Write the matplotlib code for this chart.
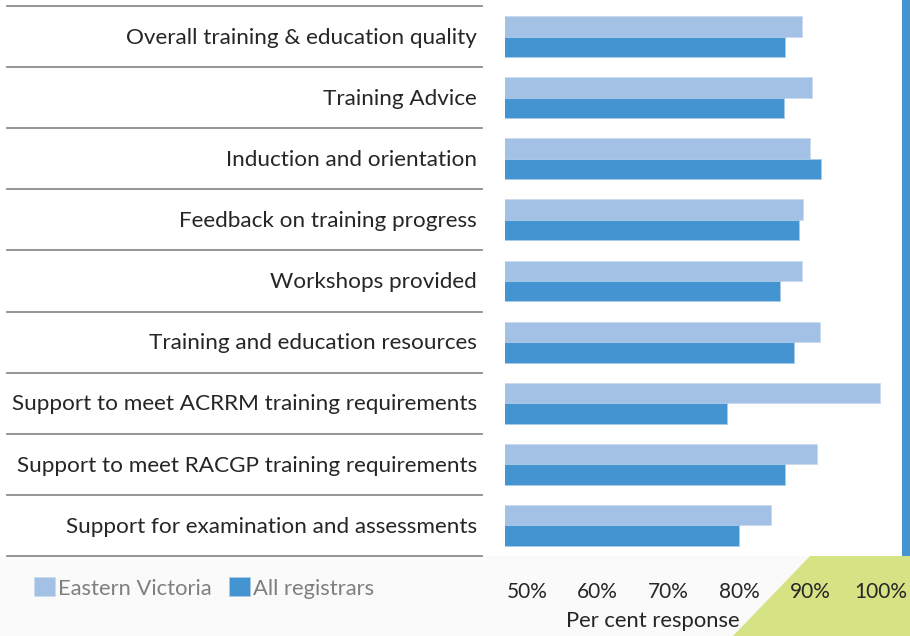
import matplotlib
matplotlib.use("Agg")
import matplotlib.pyplot as plt
import matplotlib.transforms as mtransforms
from matplotlib.patches import Rectangle, Polygon
import numpy as np

categories = [
    "Overall training & education quality",
    "Training Advice",
    "Induction and orientation",
    "Feedback on training progress",
    "Workshops provided",
    "Training and education resources",
    "Support to meet ACRRM training requirements",
    "Support to meet RACGP training requirements",
    "Support for examination and assessments",
]
eastern_victoria = [88.9, 90.3, 90.0, 89.0, 88.9, 91.4, 99.9, 91.0, 84.5]
all_registrars = [86.5, 86.3, 91.5, 88.4, 85.7, 87.7, 78.2, 86.4, 80.0]
tick_values = [50, 60, 70, 80, 90, 100]
tick_labels = ["50%", "60%", "70%", "80%", "90%", "100%"]

plt.rcParams["font.family"] = ["Lato", "DejaVu Sans"]

W, H = 910, 636
fig = plt.figure(figsize=(W / 100, H / 100), dpi=100)
fig.patch.set_facecolor("white")

def px(x, y):
    # pixel coords from top-left to figure fraction
    return x / W, 1 - y / H

# bottom grey band and green corner
fig.patches.append(Rectangle((0, 0), 1, 80 / H, transform=fig.transFigure,
                             facecolor="#fafafa", edgecolor="none", zorder=-2))
fig.patches.append(Polygon([px(733, 636), px(810, 556), px(910, 556), px(910, 636)],
                           closed=True, transform=fig.transFigure,
                           facecolor="#d6e384", edgecolor="none", zorder=-1))
# blue bar on the right edge
fig.patches.append(Rectangle(px(902, 556), 8 / W, 556 / H, transform=fig.transFigure,
                             facecolor="#4394d0", edgecolor="none", zorder=-1))

left, right, top, bottom = 505, 910, 6, 556
ax = fig.add_axes([left / W, 1 - bottom / H, (right - left) / W, (bottom - top) / H])
ax.patch.set_visible(False)

y = np.arange(len(categories))
h = 0.335
ax.barh(y - h / 2, eastern_victoria, height=h, color="#a3c1e5",
        edgecolor="#c9dbf0", linewidth=0.6, label="Eastern Victoria")
ax.barh(y + h / 2, all_registrars, height=h, color="#4394d0",
        edgecolor="#a9cbe9", linewidth=0.6, label="All registrars")

ax.set_ylim(len(categories) - 0.5, -0.5)
ax.set_xlim(46.9, 104.1)
ax.set_yticks([])
ax.set_xticks(tick_values)
ax.set_xticklabels(tick_labels)
ax.tick_params(axis="x", length=0, pad=19, labelsize=15, labelcolor="#262626")
for s in ax.spines.values():
    s.set_visible(False)

# row separators and category labels on the left
trans = mtransforms.blended_transform_factory(fig.transFigure, ax.transData)
for b in np.arange(len(categories) + 1) - 0.5:
    ax.plot([7 / W, 482 / W], [b, b], transform=trans, color="#8c8c8c",
            linewidth=1.3, clip_on=False)
for i, name in enumerate(categories):
    ax.text(477 / W, i + 0.02, name, transform=trans, ha="right", va="center",
            fontsize=16.2, color="#262626")

fig.text(653 / W, 1 - 621 / H, "Per cent response", ha="center", va="center",
         fontsize=15.8, color="#262626")

fig.legend(loc="center left", bbox_to_anchor=(34 / W, 1 - 588 / H), ncol=2,
           frameon=False, fontsize=15.8, labelcolor="#7f7f7f",
           handlelength=0.95, handleheight=0.95, handletextpad=0.15,
           columnspacing=0.8, borderaxespad=0, borderpad=0)

fig.savefig("out.png", dpi=100)
